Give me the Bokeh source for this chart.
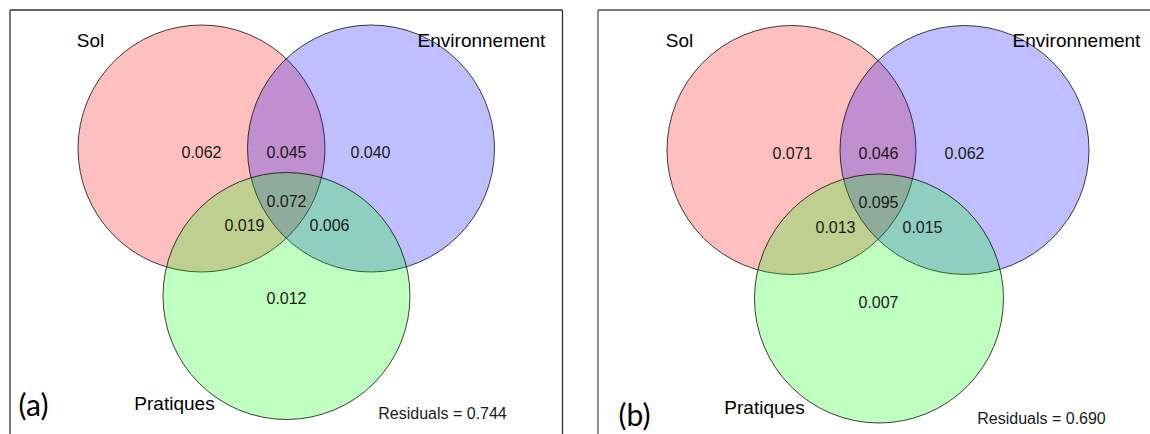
from bokeh.plotting import figure
from bokeh.layouts import row
from bokeh.models import Range1d, ColumnDataSource
from bokeh.core.properties import value
from bokeh.embed import file_html
from bokeh.resources import INLINE

# ---- data ----
set_names = ["Sol", "Environnement", "Pratiques"]
set_colors = ["#FF0000", "#0000FF", "#00FF00"]
region_names = ["Sol", "Sol&Environnement", "Environnement", "Sol&Environnement&Pratiques",
                "Sol&Pratiques", "Environnement&Pratiques", "Pratiques"]
values_a = [0.062, 0.045, 0.040, 0.072, 0.019, 0.006, 0.012]
values_b = [0.071, 0.046, 0.062, 0.095, 0.013, 0.015, 0.007]
residuals_a = 0.744
residuals_b = 0.690
panel_tags = ["(a)", "(b)"]

# ---- layout (pixel geometry of each fitted diagram) ----
layout_a = dict(
    xr=(0, 580),
    cx=[201, 370.5, 286], cy=[148, 148, 295.5], r=123.5,
    rx=[201, 286, 370, 286, 244, 329, 286], ry=[151, 151, 151, 200, 224, 224, 297.5],
    lx=[90, 481, 174], ly=[40, 40, 403],
    tag=(33, 403), res=(442, 413),
    border=[(9.5, 434, 9.5, 9.5), (9.5, 9.5, 562, 9.5), (562, 9.5, 562, 434)],
    border_color="#303030",
)
layout_b = dict(
    xr=(580, 1150),
    cx=[791, 964, 878.5], cy=[149.5, 149.5, 298], r=124.5,
    rx=[792, 878, 964, 878, 835, 922, 878], ry=[152, 152, 152, 201, 226, 226, 301],
    lx=[679, 1076, 764], ly=[40, 40, 407],
    tag=(634, 413), res=(1041, 418),
    border=[(597.5, 434, 597.5, 9.5), (597.5, 9.5, 1150, 9.5)],
    border_color="#505050",
)

H = 434


def panel(vals, resid, tag, L):
    x0, x1 = L["xr"]
    p = figure(width=int(x1 - x0), height=H, x_range=Range1d(x0, x1), y_range=Range1d(H, 0),
               output_backend="svg", toolbar_location=None, min_border=0)
    p.axis.visible = False
    p.grid.visible = False
    p.outline_line_color = None
    p.background_fill_color = "white"

    for (xa, ya, xb, yb) in L["border"]:
        p.segment(x0=[xa], y0=[ya], x1=[xb], y1=[yb], line_color=L["border_color"], line_width=1.3)

    for i in range(3):
        p.circle(x=[L["cx"][i]], y=[L["cy"][i]], radius=L["r"], fill_color=set_colors[i],
                 fill_alpha=0.25, line_color="black", line_alpha=0.75, line_width=1)

    src = ColumnDataSource(dict(x=L["rx"], y=L["ry"], t=[f"{v:.3f}" for v in vals]))
    p.text(x="x", y="y", text="t", source=src, text_align="center", text_baseline="middle",
           text_font=value("Liberation Sans"), text_font_size="16px", text_color="#1a1a1a")

    lsrc = ColumnDataSource(dict(x=L["lx"], y=L["ly"], t=set_names))
    p.text(x="x", y="y", text="t", source=lsrc, text_align="center", text_baseline="middle",
           text_font=value("Liberation Sans"), text_font_size="19px", text_color="black")

    p.text(x=[L["res"][0]], y=[L["res"][1]], text=[f"Residuals = {resid:.3f}"],
           text_align="center", text_baseline="middle",
           text_font=value("Liberation Sans"), text_font_size="16px", text_color="#1a1a1a")

    p.text(x=[L["tag"][0]], y=[L["tag"][1]], text=[tag], text_align="center",
           text_baseline="middle", text_font=value("Lato"), text_font_size="30px",
           text_color="black")
    return p


pa = panel(values_a, residuals_a, panel_tags[0], layout_a)
pb = panel(values_b, residuals_b, panel_tags[1], layout_b)
layout = row(pa, pb, spacing=0)

open("out.html", "w").write(file_html(layout, INLINE))
